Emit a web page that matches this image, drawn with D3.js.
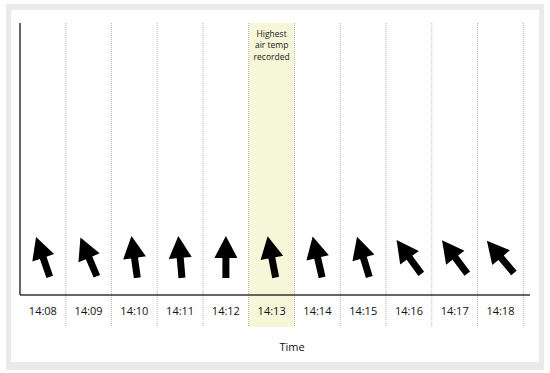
<!DOCTYPE html>
<html><head><meta charset="utf-8">
<script src="https://cdn.jsdelivr.net/npm/d3@7"></script>
<style>html,body{margin:0;padding:0;background:#fff;}svg{display:block;}</style>
</head><body>
<svg id="c" width="550" height="373"></svg>
<script>
const times = ["14:08","14:09","14:10","14:11","14:12","14:13","14:14","14:15","14:16","14:17","14:18"];
const windDirection = [341, 337, 352, 355, 0, 349, 347, 343, 324, 323, 320];
const arrowLevel = [0.14,0.14,0.14,0.14,0.14,0.14,0.14,0.14,0.14,0.14,0.14];
const highlightTime = "14:13";
const annotationLines = ["Highest","air temp","recorded"];
const axisTitle = "Time";

const svg = d3.select("#c");
const font = "'Open Sans', 'DejaVu Sans', sans-serif";

svg.append("rect").attr("x",6).attr("y",4).attr("width",538).attr("height",366).attr("fill","#e9eaec");
svg.append("rect").attr("x",11).attr("y",10).attr("width",528).attr("height",352).attr("fill","#fff");

const x = d3.scaleBand().domain(times).range([20, 523.3]).padding(0);
const y = d3.scaleLinear().domain([0,1]).range([295, 23]);
const gridBottom = 327;

// highlight
svg.append("rect")
  .attr("x", x(highlightTime)).attr("y", y(1))
  .attr("width", x.bandwidth()).attr("height", gridBottom - y(1))
  .attr("fill", "#f6f6d8");

// dotted grid lines at band right edges
svg.append("g").selectAll("line").data(times).join("line")
  .attr("x1", d => x(d) + x.bandwidth()).attr("x2", d => x(d) + x.bandwidth())
  .attr("y1", y(1)).attr("y2", gridBottom)
  .attr("stroke", "#b5b5b5").attr("stroke-width", 1).attr("stroke-dasharray", "1,1");

// annotation (separate text elements)
svg.append("g").selectAll("text").data(annotationLines).join("text")
  .attr("text-anchor","middle")
  .attr("x", x(highlightTime) + x.bandwidth()/2)
  .attr("y", (d,i) => 36.5 + i*11.6)
  .attr("font-family", font).attr("font-size", 8.5).attr("fill","#1a1a1a")
  .text(d => d);

// axes
const xAxis = d3.axisBottom(x).tickSize(0).tickPadding(12);
const gx = svg.append("g").attr("transform", `translate(0,${y(0)})`).call(xAxis);
gx.select(".domain").remove();
gx.selectAll("text").attr("font-family", font).attr("font-size", 11).attr("fill","#111");
svg.append("line").attr("x1",20).attr("x2",530).attr("y1",y(0)).attr("y2",y(0))
  .attr("stroke","#333").attr("stroke-width",1.5);
svg.append("line").attr("x1",20).attr("x2",20).attr("y1",y(1)).attr("y2",y(0))
  .attr("stroke","#333").attr("stroke-width",1.5);

// axis title
svg.append("text").attr("x", 292).attr("y", 350.5).attr("text-anchor","middle")
  .attr("font-family", font).attr("font-size", 11).attr("fill","#111").text(axisTitle);

// arrows
const arrowPath = "M0,-21 L11.5,1 L3.5,1 L3.5,21 L-3.5,21 L-3.5,1 L-11.5,1 Z";
svg.append("g").selectAll("path").data(times).join("path")
  .attr("d", arrowPath)
  .attr("fill", "#000")
  .attr("transform", (d,i) => `translate(${x(d) + x.bandwidth()/2},${y(arrowLevel[i])}) rotate(${windDirection[i]})`);
</script>
</body></html>
